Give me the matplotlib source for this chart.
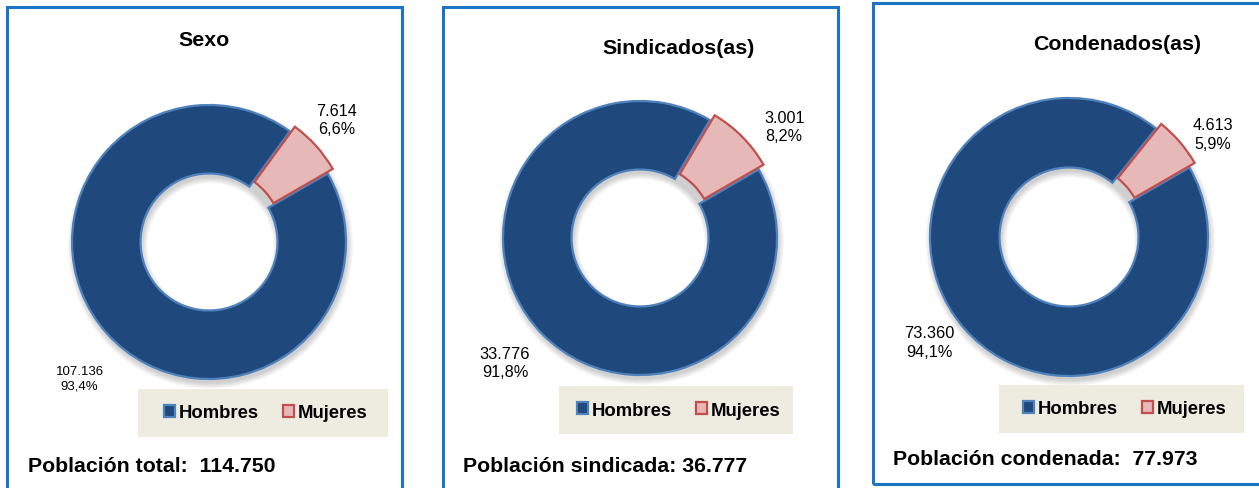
import matplotlib
matplotlib.use("Agg")
import matplotlib.pyplot as plt
from matplotlib.patches import Rectangle
import numpy as np

# ---- data ----
categories = ["Hombres", "Mujeres"]
titles = ["Sexo", "Sindicados(as)", "Condenados(as)"]
hombres = [107136, 33776, 73360]
mujeres = [7614, 3001, 4613]
footer_prefix = ["Población total:", "Población sindicada:", "Población condenada:"]
footer_sep = ["  ", " ", "  "]

# ---- style ----
colors = ["#1F497D", "#E6B9B8"]
edges = ["#4F81BD", "#C0504D"]
border_col = "#1C75C4"
legend_bg = "#EEECE1"
plt.rcParams["font.family"] = ["Liberation Sans", "DejaVu Sans"]

W, H = 1259, 489
fig = plt.figure(figsize=(W / 100, H / 100), dpi=100)


def fx(x):
    return x / W


def fy(y):
    return 1 - y / H


def fmt_int(v):
    return f"{v:,}".replace(",", ".")


def fmt_pct(p):
    return f"{p:.1f}".replace(".", ",") + "%"


# layout per panel (pixels)
panels = [
    dict(box=(7, 8, 395, 500), center=(209, 243), R=137, title=(204, 41),
         leg_box=(138, 390, 250, 48), leg_c=(266, 414), foot=(28, 467),
         lab_fs=[9.5, 11.6], lab_r=[1.37, 1.29], lab_da=[4.5, 2.0]),
    dict(box=(443, 8, 395, 500), center=(640, 239), R=137, title=(679, 48),
         leg_box=(559, 387, 234, 48), leg_c=(679, 411), foot=(463, 467),
         lab_fs=[11.8, 11.6], lab_r=[1.34, 1.33], lab_da=[-2.0, -7.0]),
    dict(box=(873, 4, 420, 481), center=(1069, 238), R=139, title=(1117, 44),
         leg_box=(999, 386, 245, 48), leg_c=(1125, 410), foot=(893, 460),
         lab_fs=[11.8, 11.6], lab_r=[1.26, 1.27], lab_da=[-3.7, -5.0]),
]

L = 1.5
for i, p in enumerate(panels):
    bx, by, bw, bh = p["box"]
    fig.add_artist(Rectangle((fx(bx), fy(by + bh)), bw / W, bh / H,
                             transform=fig.transFigure, fill=False,
                             edgecolor=border_col, linewidth=2.2, clip_on=False))
    lx, ly, lw, lh = p["leg_box"]
    fig.add_artist(Rectangle((fx(lx), fy(ly + lh)), lw / W, lh / H,
                             transform=fig.transFigure, facecolor=legend_bg,
                             edgecolor="none"))

    cx, cy = p["center"]
    R = p["R"]
    ax = fig.add_axes([fx(cx - L * R), fy(cy + L * R), 2 * L * R / W, 2 * L * R / H])
    vals = [hombres[i], mujeres[i]]
    total = sum(vals)

    # soft shadow
    for k in range(8):
        ax.pie([1], radius=1.0 + 0.006 * k, colors=["#000000"],
               wedgeprops=dict(width=0.5 + 0.012 * k, alpha=0.025, linewidth=0),
               center=(0.01, -0.03))

    wedges, _ = ax.pie(vals, colors=colors, startangle=30, counterclock=False,
                       explode=[0, 0.05], radius=1.0,
                       wedgeprops=dict(width=0.5, linewidth=1.6))
    for w, ec in zip(wedges, edges):
        w.set_edgecolor(ec)
        w.set_joinstyle("miter")

    for j, (w, v) in enumerate(zip(wedges, vals)):
        mid = np.deg2rad((w.theta1 + w.theta2) / 2 + p["lab_da"][j])
        r = p["lab_r"][j]
        ax.text(r * np.cos(mid), r * np.sin(mid),
                fmt_int(v) + "\n" + fmt_pct(100 * v / total),
                ha="center", va="center", fontsize=p["lab_fs"][j],
                linespacing=1.3, color="#000000")

    ax.set_xlim(-L, L)
    ax.set_ylim(-L, L)
    ax.set_aspect("equal")
    ax.axis("off")

    tx, ty = p["title"]
    fig.text(fx(tx), fy(ty), titles[i], ha="center", va="center",
             fontsize=15.4, fontweight="bold")

    lcx, lcy = p["leg_c"]
    fig.legend(wedges, categories, loc="center",
               bbox_to_anchor=(fx(lcx), fy(lcy)), bbox_transform=fig.transFigure,
               ncol=2, frameon=False, handlelength=0.6, handleheight=0.6,
               handletextpad=0.2, columnspacing=1.3, borderpad=0,
               prop=dict(size=13.3, weight="bold"))

    ftx, fty = p["foot"]
    fig.text(fx(ftx), fy(fty), footer_prefix[i] + footer_sep[i] + fmt_int(total),
             ha="left", va="center", fontsize=15.3, fontweight="bold")

fig.savefig("out.png", dpi=100, facecolor="white")
